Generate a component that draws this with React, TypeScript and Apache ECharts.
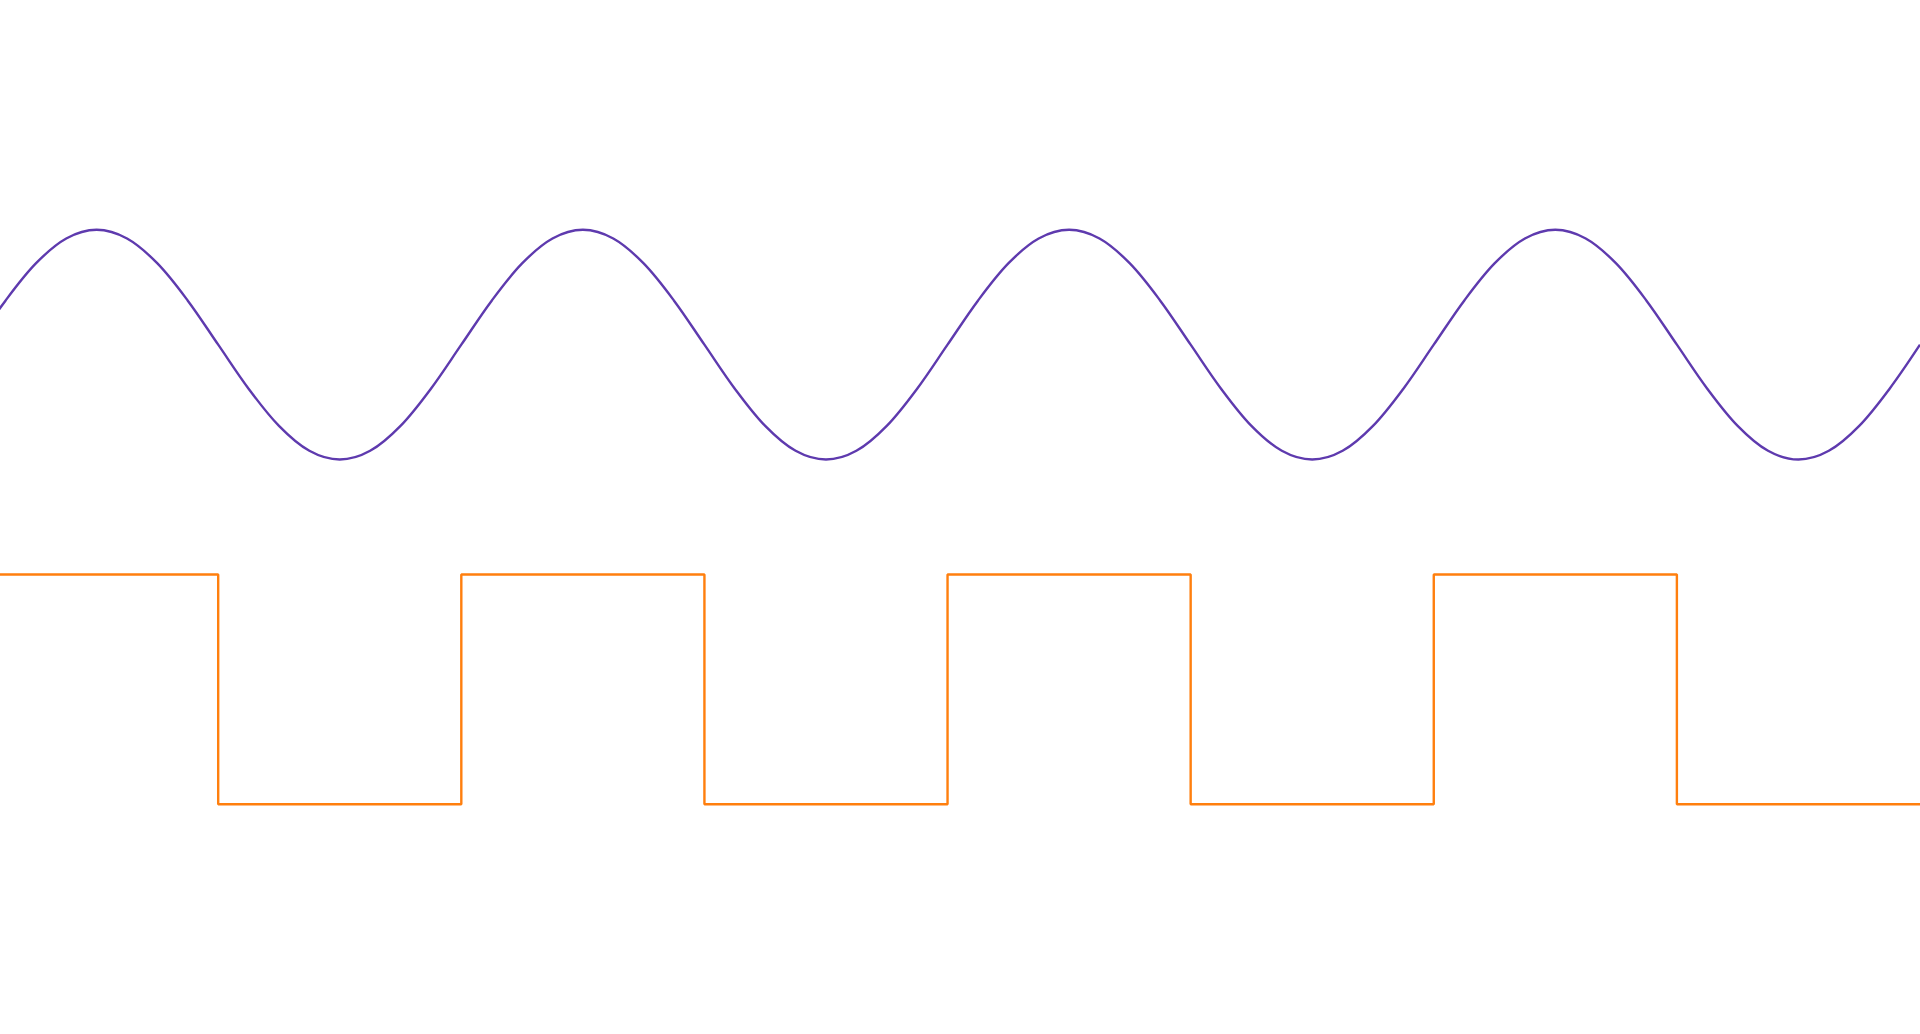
import React, { useEffect, useRef } from "react";
import * as echarts from "echarts";

// Sample index: sixteenths of one wave period
const sineValues: number[] = [
  0, 0.383, 0.707, 0.924, 1, 0.924, 0.707, 0.383, 0, -0.383, -0.707, -0.924, -1, -0.924, -0.707, -0.383,
  0, 0.383, 0.707, 0.924, 1, 0.924, 0.707, 0.383, 0, -0.383, -0.707, -0.924, -1, -0.924, -0.707, -0.383,
  0, 0.383, 0.707, 0.924, 1, 0.924, 0.707, 0.383, 0, -0.383, -0.707, -0.924, -1, -0.924, -0.707, -0.383,
  0, 0.383, 0.707, 0.924, 1, 0.924, 0.707, 0.383, 0, -0.383, -0.707, -0.924, -1, -0.924, -0.707, -0.383,
  0,
];
const squareX: number[] = [0, 8, 16, 24, 32, 40, 48, 56, 64];
const squareValues: number[] = [1, -1, 1, -1, 1, -1, 1, -1, -1];

const sineOffset = 1.5;
const squareOffset = -1.5;
const xMin = 0.82;
const xMax = 64;
const yMin = -4.5;
const yMax = 4.5;

export default function App() {
  const ref = useRef<HTMLDivElement>(null);
  useEffect(() => {
    if (!ref.current) return;
    const chart = echarts.init(ref.current, null, { renderer: "svg" });
    chart.setOption({
      animation: false,
      grid: { left: 0, right: 0, top: 0, bottom: 0, containLabel: false },
      xAxis: { type: "value", min: xMin, max: xMax, show: false },
      yAxis: { type: "value", min: yMin, max: yMax, show: false },
      series: [
        {
          type: "line",
          name: "sine",
          data: sineValues.map((v, i) => [i, v + sineOffset]),
          smooth: 0.34,
          showSymbol: false,
          silent: true,
          lineStyle: { color: "#5e3aae", width: 2.4 },
          itemStyle: { color: "#5e3aae" },
        },
        {
          type: "line",
          name: "square",
          data: squareValues.map((v, i) => [squareX[i], v + squareOffset]),
          step: "end",
          showSymbol: false,
          silent: true,
          lineStyle: { color: "#ff7f0e", width: 2.4 },
          itemStyle: { color: "#ff7f0e" },
        },
      ],
    });
    return () => chart.dispose();
  }, []);
  return (
    <div
      ref={ref}
      style={{ position: "fixed", left: 0, top: 0, width: "100vw", height: "100vh", background: "#fff" }}
    />
  );
}
